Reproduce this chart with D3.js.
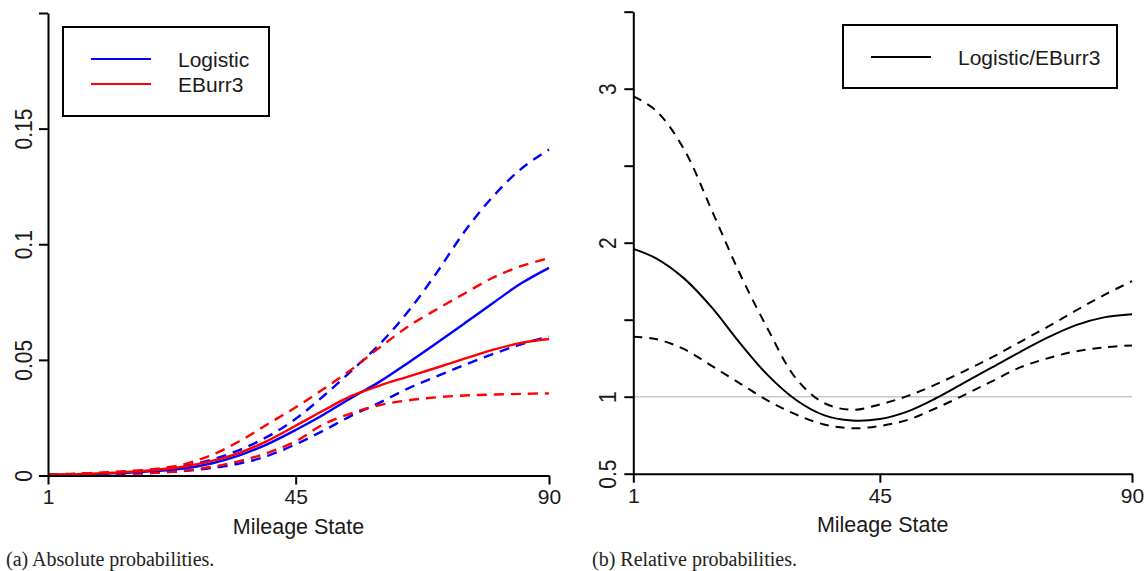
<!DOCTYPE html>
<html><head><meta charset="utf-8">
<script src="https://cdn.jsdelivr.net/npm/d3@7/dist/d3.min.js"></script>
<style>
html,body{margin:0;padding:0;background:#fff;}
svg text{font-family:"Liberation Sans",Arial,sans-serif;}
</style></head>
<body><svg id="c" width="1148" height="571"></svg>
<script>
// ---------- data ----------
const states = [1,5,10,15,20,25,30,35,40,45,50,55,60,65,70,75,80,85,90];
// Panel (a): absolute probabilities
const logistic      = [0.0002,0.0004,0.0007,0.0012,0.0019,0.0030,0.0052,0.0087,0.0136,0.0197,0.0264,0.0337,0.0407,0.0488,0.0572,0.0658,0.0745,0.0830,0.0898];
const logisticUpper = [0.0003,0.0006,0.0010,0.0016,0.0025,0.0040,0.0068,0.0110,0.0168,0.0245,0.0345,0.0455,0.0570,0.0710,0.0875,0.1055,0.1205,0.1325,0.1410];
const logisticLower = [0.0002,0.0003,0.0005,0.0008,0.0012,0.0019,0.0032,0.0052,0.0085,0.0135,0.0195,0.0260,0.0316,0.0377,0.0428,0.0478,0.0525,0.0567,0.0602];
const eburr3        = [0.0003,0.0005,0.0009,0.0015,0.0024,0.0038,0.0062,0.0098,0.0150,0.0215,0.0282,0.0345,0.0390,0.0428,0.0466,0.0505,0.0543,0.0573,0.0590];
const eburr3Upper   = [0.0004,0.0007,0.0012,0.0019,0.0028,0.0048,0.0088,0.0148,0.0222,0.0295,0.0375,0.0460,0.0555,0.0645,0.0718,0.0787,0.0855,0.0905,0.0940];
const eburr3Lower   = [0.0002,0.0003,0.0005,0.0008,0.0012,0.0020,0.0037,0.0062,0.0098,0.0148,0.0222,0.0270,0.0305,0.0325,0.0338,0.0346,0.0350,0.0353,0.0355];
// Panel (b): relative probabilities
const ratio      = [1.96,1.90,1.77,1.58,1.35,1.14,0.98,0.88,0.845,0.855,0.905,0.99,1.09,1.19,1.29,1.385,1.465,1.515,1.535];
const ratioUpper = [2.95,2.86,2.61,2.21,1.80,1.44,1.12,0.96,0.915,0.95,1.005,1.08,1.165,1.255,1.355,1.455,1.56,1.66,1.75];
const ratioLower = [1.39,1.375,1.31,1.20,1.087,0.975,0.885,0.82,0.795,0.81,0.85,0.925,1.01,1.10,1.19,1.25,1.295,1.32,1.333];
// ticks
const xTicks = [1,45,90];
const yTicksA = [0,0.05,0.1,0.15,0.2];
const yLabelsA = ["0","0.05","0.1","0.15",""];
const yTicksB = [0.5,1,1.5,2,2.5,3,3.5];
const yLabelsB = ["0.5","1","","2","","3",""];
const legendA = ["Logistic","EBurr3"];
const legendB = ["Logistic/EBurr3"];
const xTitle = "Mileage State";
const captions = ["(a) Absolute probabilities.","(b) Relative probabilities."];

// ---------- drawing ----------
const svg = d3.select("#c");
const SANS = "'Liberation Sans',Arial,sans-serif";

function axisStyle(g){
  g.attr("font-size",21).attr("font-family",SANS);
  g.selectAll("path.domain").attr("stroke","#000").attr("stroke-width",2);
  g.selectAll(".tick line").attr("stroke","#000").attr("stroke-width",2);
  g.selectAll(".tick text").attr("fill","#1a1a1a").attr("font-size",21).style("font-size","21px");
}

function panel(opt){
  const x = d3.scaleLinear().domain([1,90]).range([opt.x0,opt.x1]);
  const y = d3.scaleLinear().domain(opt.yDomain).range([opt.y0,opt.y1]);
  const g = svg.append("g");

  if (opt.refLine !== undefined){
    g.append("line").attr("x1",x(1)).attr("x2",x(90))
      .attr("y1",y(opt.refLine)).attr("y2",y(opt.refLine))
      .attr("stroke","#c8c8c8").attr("stroke-width",1.5);
  }

  const line = d3.line().x((d,i)=>x(states[i])).y(d=>y(d)).curve(d3.curveCatmullRom.alpha(0.5));
  opt.series.forEach(s=>{
    g.append("path").datum(s.v).attr("d",line).attr("fill","none")
      .attr("stroke",s.c).attr("stroke-width",opt.lw)
      .attr("stroke-dasharray",s.dash?opt.dash:null);
  });

  const xa = g.append("g").attr("transform",`translate(0,${opt.y0})`)
    .call(d3.axisBottom(x).tickValues(xTicks).tickFormat(d3.format("d")).tickSizeInner(9).tickSizeOuter(0).tickPadding(5));
  axisStyle(xa);
  const ya = g.append("g").attr("transform",`translate(${opt.x0},0)`)
    .call(d3.axisLeft(y).tickValues(opt.yTicks).tickFormat((d,i)=>opt.yLabels[i]).tickSizeInner(9).tickSizeOuter(0).tickPadding(0));
  axisStyle(ya);
  ya.selectAll(".tick text").attr("x",0).attr("dy",null)
    .attr("text-anchor","middle")
    .attr("transform",`translate(${-opt.labelOff},0) scale(1.15,1) rotate(-90)`)
    .attr("dominant-baseline","central");

  g.append("text").attr("x",(opt.x0+opt.x1)/2).attr("y",opt.y0+58)
    .attr("text-anchor","middle").style("font-size","21.5px").attr("fill","#1a1a1a").text(xTitle);

  // legend
  const L = opt.legend;
  g.append("rect").attr("x",L.x).attr("y",L.y).attr("width",L.w).attr("height",L.h)
    .attr("fill","#fff").attr("stroke","#000").attr("stroke-width",2);
  L.items.forEach((it,i)=>{
    const yy = L.y + L.first + i*L.step;
    g.append("line").attr("x1",L.x+28).attr("x2",L.x+88).attr("y1",yy).attr("y2",yy)
      .attr("stroke",it.c).attr("stroke-width",2.2);
    g.append("text").attr("x",L.x+115).attr("y",yy).attr("dominant-baseline","central")
      .style("font-size","21px").attr("fill","#1a1a1a").text(it.t);
  });
}

panel({
  x0:48, x1:549, y0:475.5, y1:13, yDomain:[0,0.2], lw:2.4, dash:"10,7",
  yTicks:yTicksA, yLabels:yLabelsA, labelOff:24,
  series:[
    {v:logisticUpper,c:"#0000ff",dash:true},
    {v:logisticLower,c:"#0000ff",dash:true},
    {v:eburr3Upper,c:"#ff0000",dash:true},
    {v:eburr3Lower,c:"#ff0000",dash:true},
    {v:logistic,c:"#0000ff"},
    {v:eburr3,c:"#ff0000"}
  ],
  legend:{x:63,y:27,w:206,h:89,first:32,step:25,items:[{t:legendA[0],c:"#0000ff"},{t:legendA[1],c:"#ff0000"}]}
});

panel({
  x0:633.3, x1:1132, y0:473.7, y1:11.7, yDomain:[0.5,3.5], lw:2, dash:"9,7",
  yTicks:yTicksB, yLabels:yLabelsB, labelOff:25, refLine:1,
  series:[
    {v:ratioUpper,c:"#000",dash:true},
    {v:ratioLower,c:"#000",dash:true},
    {v:ratio,c:"#000"}
  ],
  legend:{x:843,y:25,w:274,h:63,first:32,step:25,items:[{t:legendB[0],c:"#000"}]}
});

// captions
svg.append("text").attr("x",6).attr("y",566).style("font-family","'Liberation Serif','DejaVu Serif',serif")
  .style("font-size","20px").attr("fill","#222").text(captions[0]);
svg.append("text").attr("x",592).attr("y",566).style("font-family","'Liberation Serif','DejaVu Serif',serif")
  .style("font-size","20px").attr("fill","#222").text(captions[1]);
</script>
</body></html>
